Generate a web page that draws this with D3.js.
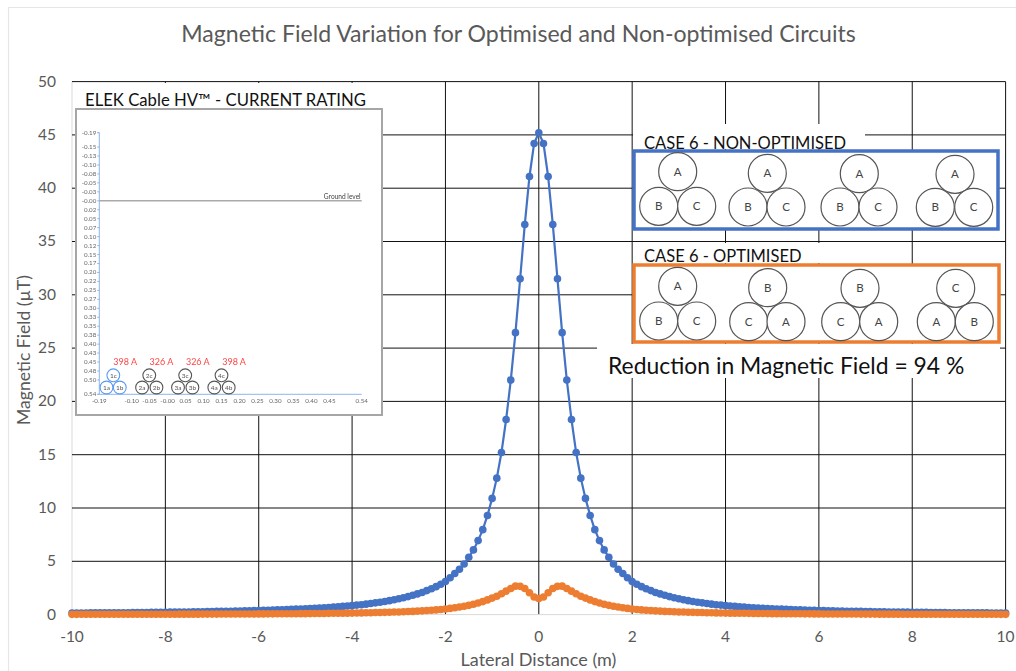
<!DOCTYPE html>
<html><head><meta charset="utf-8">
<script src="https://cdnjs.cloudflare.com/ajax/libs/d3/7.8.5/d3.min.js"></script>
<style>html,body{margin:0;background:#fff}svg{display:block}text{font-family:Lato,"Open Sans",sans-serif}</style>
</head><body><svg id="c" width="1016" height="671"></svg>
<script>
const chartTitle = "Magnetic Field Variation for Optimised and Non-optimised Circuits";
const xTitle = "Lateral Distance (m)";
const yTitle = "Magnetic Field (µT)";
const xTicks = [-10,-8,-6,-4,-2,0,2,4,6,8,10];
const yTicks = [0,5,10,15,20,25,30,35,40,45,50];
const lateral = d3.range(-100,101).map(d=>d/10);
const nonOptimised = [
0.14,0.15,0.15,0.15,0.16,0.16,0.16,0.17,0.17,0.17,
0.18,0.18,0.18,0.19,0.19,0.20,0.20,0.21,0.21,0.22,
0.22,0.23,0.23,0.24,0.25,0.25,0.26,0.27,0.27,0.28,
0.29,0.30,0.30,0.31,0.32,0.33,0.34,0.35,0.36,0.38,
0.39,0.40,0.41,0.43,0.44,0.46,0.47,0.49,0.51,0.53,
0.55,0.57,0.59,0.62,0.64,0.67,0.70,0.73,0.77,0.80,
0.84,0.89,0.93,0.98,1.04,1.10,1.16,1.23,1.31,1.39,
1.48,1.58,1.69,1.81,1.94,2.08,2.25,2.42,2.62,2.85,
3.1,3.45,3.85,4.25,4.75,5.38,6.07,6.94,7.97,9.3,
10.9,12.8,15.2,18.3,22.0,26.45,31.5,36.6,41.1,44.2,
45.2,
44.2,41.1,36.6,31.5,26.45,22.0,18.3,15.2,12.8,10.9,
9.3,7.97,6.94,6.07,5.38,4.75,4.25,3.85,3.45,3.1,
2.85,2.62,2.42,2.25,2.08,1.94,1.81,1.69,1.58,1.48,
1.39,1.31,1.23,1.16,1.10,1.04,0.98,0.93,0.89,0.84,
0.80,0.77,0.73,0.70,0.67,0.64,0.62,0.59,0.57,0.55,
0.53,0.51,0.49,0.47,0.46,0.44,0.43,0.41,0.40,0.39,
0.38,0.36,0.35,0.34,0.33,0.32,0.31,0.30,0.30,0.29,
0.28,0.27,0.27,0.26,0.25,0.25,0.24,0.23,0.23,0.22,
0.22,0.21,0.21,0.20,0.20,0.19,0.19,0.18,0.18,0.18,
0.17,0.17,0.17,0.16,0.16,0.16,0.15,0.15,0.15,0.14];
const optimised = [
0.025,0.025,0.026,0.026,0.027,0.027,0.028,0.028,0.029,0.029,
0.03,0.03,0.031,0.032,0.032,0.033,0.034,0.034,0.035,0.036,
0.037,0.038,0.039,0.04,0.041,0.042,0.043,0.044,0.045,0.046,
0.048,0.049,0.05,0.052,0.053,0.055,0.056,0.058,0.06,0.063,
0.065,0.068,0.07,0.072,0.075,0.078,0.08,0.082,0.085,0.088,
0.09,0.095,0.10,0.105,0.11,0.115,0.12,0.125,0.13,0.135,
0.14,0.15,0.16,0.17,0.18,0.19,0.20,0.21,0.22,0.24,
0.25,0.27,0.29,0.30,0.33,0.35,0.38,0.41,0.44,0.48,
0.53,0.58,0.64,0.71,0.78,0.87,0.97,1.09,1.22,1.38,
1.55,1.72,1.95,2.2,2.45,2.67,2.65,2.45,2.05,1.65,
1.5,
1.65,2.05,2.45,2.65,2.67,2.45,2.2,1.95,1.72,1.55,
1.38,1.22,1.09,0.97,0.87,0.78,0.71,0.64,0.58,0.53,
0.48,0.44,0.41,0.38,0.35,0.33,0.30,0.29,0.27,0.25,
0.24,0.22,0.21,0.20,0.19,0.18,0.17,0.16,0.15,0.14,
0.135,0.13,0.125,0.12,0.115,0.11,0.105,0.10,0.095,0.09,
0.088,0.085,0.082,0.08,0.078,0.075,0.072,0.07,0.068,0.065,
0.063,0.06,0.058,0.056,0.055,0.053,0.052,0.05,0.049,0.048,
0.046,0.045,0.044,0.043,0.042,0.041,0.04,0.039,0.038,0.037,
0.036,0.035,0.034,0.034,0.033,0.032,0.032,0.031,0.03,0.03,
0.029,0.029,0.028,0.028,0.027,0.027,0.026,0.026,0.025,0.025];
const insetTitle = "ELEK Cable HV™ - CURRENT RATING";
const insetYTicks = [-0.19,-0.15,-0.125,-0.10,-0.075,-0.05,-0.025,0,0.025,0.05,0.075,0.10,0.125,0.15,0.175,0.20,0.225,0.25,0.275,0.30,0.325,0.35,0.375,0.40,0.425,0.45,0.475,0.50,0.54];
const insetYLabels = ["-0.19","-0.15","-0.13","-0.10","-0.08","-0.05","-0.03","-0.00","0.02","0.05","0.07","0.10","0.12","0.15","0.17","0.20","0.22","0.25","0.27","0.30","0.33","0.35","0.38","0.40","0.43","0.45","0.48","0.50","0.54"];
const insetXTicks = [-0.19,-0.10,-0.05,0,0.05,0.10,0.15,0.20,0.25,0.30,0.35,0.40,0.45,0.54];
const insetXLabels = ["-0.19","-0.10","-0.05","-0.00","0.05","0.10","0.15","0.20","0.25","0.30","0.35","0.40","0.45","0.54"];
const cableNames = ["1a","1b","1c","2a","2b","2c","3a","3b","3c","4a","4b","4c"];
const cableX = [-0.17,-0.133,-0.151,-0.071,-0.031,-0.051,0.029,0.069,0.049,0.13,0.17,0.15];
const cableY = [0.521,0.521,0.487,0.521,0.521,0.487,0.521,0.521,0.487,0.521,0.521,0.487];
const ratings = ["398 A","326 A","326 A","398 A"];
const ratingX = [-0.118,-0.017,0.084,0.185];
const nonOptimisedPhases = [["A","B","C"],["A","B","C"],["A","B","C"],["A","B","C"]];
const optimisedPhases = [["A","B","C"],["B","C","A"],["B","C","A"],["C","A","B"]];

const svg = d3.select("#c");
const blue="#4472C4", orange="#ED7D31", grey="#595959";
const x = d3.scaleLinear().domain([-10,10]).range([72,1005.6]);
const y = d3.scaleLinear().domain([0,50]).range([614.6,81.6]);

// frame
svg.append("path").attr("d","M8.5 671V7.5H1016").attr("fill","none").attr("stroke","#e6e6e6").attr("stroke-width",1.2);

// grid through axes
const gx = svg.append("g").attr("transform",`translate(0,${y(0)})`)
  .call(d3.axisBottom(x).tickValues(xTicks).tickSize(-(y(0)-y(50))).offset(0).tickFormat(()=>""));
gx.select(".domain").remove();
gx.selectAll("line").attr("stroke",d=>d===-10?"#d9d9d9":"#111").attr("stroke-width",1);
const gy = svg.append("g").attr("transform",`translate(${x(-10)},0)`)
  .call(d3.axisLeft(y).tickValues(yTicks).tickSize(-(x(10)-x(-10))).offset(0).tickFormat(()=>""));
gy.select(".domain").remove();
gy.selectAll("line").attr("stroke",d=>d===0?"#d9d9d9":"#111").attr("stroke-width",1);

// tick labels
const labelX = svg.append("g").attr("transform",`translate(0,${y(0)})`)
  .call(d3.axisBottom(x).tickValues(xTicks).tickSize(0).tickPadding(16).offset(0).tickFormat(d=>String(d)));
labelX.select(".domain").remove();
labelX.selectAll("text").attr("font-size",15.5).attr("fill",grey).style("font-family","Lato");
const labelY = svg.append("g").attr("transform",`translate(${x(-10)},0)`)
  .call(d3.axisLeft(y).tickValues(yTicks).tickSize(0).tickPadding(16).offset(0));
labelY.select(".domain").remove();
labelY.selectAll("text").attr("font-size",15.5).attr("fill",grey).style("font-family","Lato");

// white patches of pasted panels
const patches=[[73,83,310,26],[633,124,232,25],[633,243,232,20],[597,344,403,34]];
svg.append("g").selectAll("rect").data(patches).join("rect")
  .attr("x",d=>d[0]).attr("y",d=>d[1]).attr("width",d=>d[2]).attr("height",d=>d[3]).attr("fill","#fff");

// series
const line=d3.line().x((d,i)=>x(lateral[i])).y(d=>y(d));
function series(vals,col){
  const g=svg.append("g");
  g.append("path").attr("d",line(vals)).attr("fill","none").attr("stroke",col).attr("stroke-width",2.2);
  g.selectAll("circle").data(vals).join("circle").attr("cx",(d,i)=>x(lateral[i])).attr("cy",d=>y(d)).attr("r",3.8).attr("fill",col);
}
series(nonOptimised,blue);
series(optimised,orange);

// titles
svg.append("text").attr("x",518.5).attr("y",41.5).attr("text-anchor","middle").attr("font-size",23.1).attr("fill",grey).text(chartTitle);
svg.append("text").attr("x",538.5).attr("y",666).attr("text-anchor","middle").attr("font-size",18).attr("fill",grey).text(xTitle);
svg.append("text").attr("transform","translate(30,350) rotate(-90)").attr("text-anchor","middle").attr("font-size",17.6).attr("fill",grey).text(yTitle);

// inset
svg.append("text").attr("x",85).attr("y",106).attr("font-size",16.7).attr("fill","#111").text(insetTitle);
svg.append("rect").attr("x",76).attr("y",109).attr("width",306).attr("height",306).attr("fill","#fff").attr("stroke","#a6a6a6").attr("stroke-width",2);
const ix=d3.scaleLinear().domain([-0.19,0.54]).range([99.3,361.7]);
const iy=d3.scaleLinear().domain([-0.19,0.54]).range([132.7,394.3]);
const inset=svg.append("g").style("filter","blur(0.35px)");
const iax=inset.append("g").attr("transform",`translate(0,${iy(0.54)})`)
  .call(d3.axisBottom(ix).tickValues(insetXTicks).tickSize(0).tickPadding(4).offset(0).tickFormat((d,i)=>insetXLabels[i]));
const iay=inset.append("g").attr("transform",`translate(${ix(-0.19)},0)`)
  .call(d3.axisLeft(iy).tickValues(insetYTicks).tickSize(2).tickPadding(1).offset(0).tickFormat((d,i)=>insetYLabels[i]));
inset.selectAll(".domain").attr("stroke","#8db4ee").attr("stroke-width",1);
iay.selectAll("line").attr("stroke","#8db4ee");
inset.selectAll(".tick text").attr("font-size",6.2).attr("fill","#666").style("font-family","Lato");
inset.append("line").attr("x1",ix(-0.19)).attr("x2",ix(0.54)).attr("y1",iy(0)).attr("y2",iy(0)).attr("stroke","#aaa").attr("stroke-width",1.5);
inset.append("text").attr("x",ix(0.54)-1).attr("y",iy(0)-2).attr("text-anchor","end").attr("font-size",6.6).attr("fill","#444").text("Ground level");
const cg=inset.append("g").selectAll("g").data(cableNames).join("g")
  .attr("transform",(d,i)=>`translate(${ix(cableX[i])},${iy(cableY[i])})`);
cg.append("circle").attr("r",6.4).attr("fill","#fff").attr("stroke",(d,i)=>i<3?"#5a9bf0":"#555").attr("stroke-width",1.1);
cg.append("text").attr("text-anchor","middle").attr("dy",2.2).attr("font-size",6.5).attr("fill","#555").text(d=>d);
inset.append("g").selectAll("text").data(ratings).join("text")
  .attr("x",(d,i)=>ix(ratingX[i])).attr("y",365).attr("text-anchor","middle").attr("font-size",9).attr("fill","#f44").text(d=>d);

// case panels
svg.append("text").attr("x",644).attr("y",149).attr("font-size",16.5).attr("fill","#111").text("CASE 6 - NON-OPTIMISED");
svg.append("text").attr("x",644).attr("y",262).attr("font-size",16.5).attr("fill","#111").text("CASE 6 - OPTIMISED");
svg.append("rect").attr("x",634).attr("y",151).attr("width",364).attr("height",78).attr("fill","#fff").attr("stroke",blue).attr("stroke-width",3.5);
svg.append("rect").attr("x",634).attr("y",265).attr("width",365).attr("height",77).attr("fill","#fff").attr("stroke",orange).attr("stroke-width",3.5);
const bundlesTop=[[[677.7,171.7],[658.7,206.3],[696.7,206.3]],[[767.3,173.3],[748,207],[786,207]],[[859.3,173.7],[840,207],[878,207]],[[955,174.3],[935.3,207.3],[973.7,207.3]]];
const bundlesBottom=[[[677.7,286.3],[658.7,321],[696.7,321]],[[767.7,287.7],[748.7,321.7],[786,321.7]],[[860,288.3],[840.7,321.7],[878.7,321.7]],[[955.7,288.3],[936.3,321.7],[974.3,321.7]]];
function bundles(pos,names){
  pos.forEach((b,i)=>b.forEach((p,j)=>{
    const g=svg.append("g").attr("transform",`translate(${p[0]},${p[1]})`);
    g.append("circle").attr("r",19).attr("fill","#fff").attr("stroke","#555").attr("stroke-width",1.2);
    g.append("text").attr("text-anchor","middle").attr("dy",4).attr("font-size",11.5).attr("fill","#444").text(names[i][j]);
  }));
}
bundles(bundlesTop,nonOptimisedPhases);
bundles(bundlesBottom,optimisedPhases);
svg.append("text").attr("x",608).attr("y",374).attr("font-size",22.9).attr("fill","#111").text("Reduction in Magnetic Field = 94 %");
</script></body></html>
